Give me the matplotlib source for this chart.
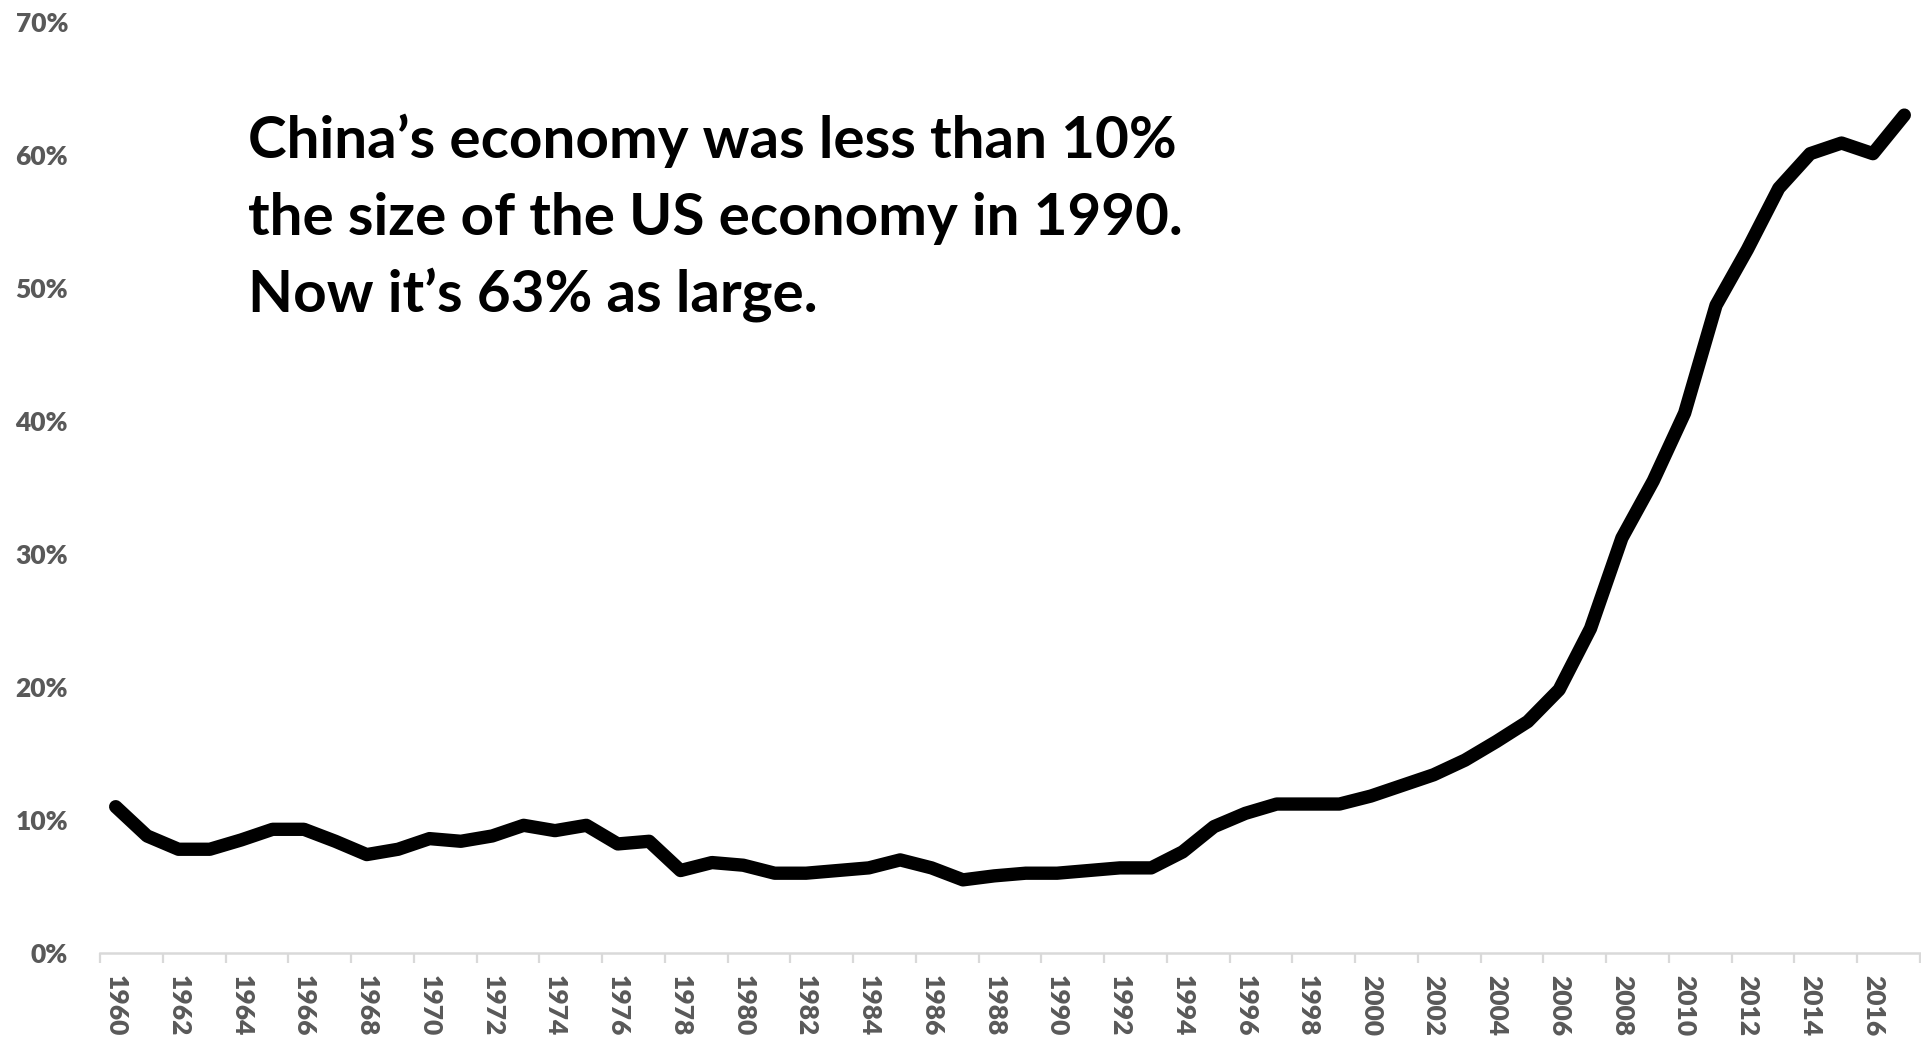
import matplotlib
matplotlib.use("Agg")
import matplotlib.pyplot as plt
from matplotlib.ticker import FixedLocator, FuncFormatter, NullFormatter

# China's GDP as a share of US GDP (percent), 1960-2017
years = list(range(1960, 2018))
share_pct = [
    11.0, 8.8, 7.8, 7.8, 8.5, 9.3, 9.3, 8.4, 7.4, 7.8,
    8.6, 8.4, 8.8, 9.6, 9.2, 9.6, 8.2, 8.4, 6.2, 6.8,
    6.6, 6.0, 6.0, 6.2, 6.4, 7.0, 6.4, 5.5, 5.8, 6.0,
    6.0, 6.2, 6.4, 6.4, 7.6, 9.5, 10.5, 11.2, 11.2, 11.2,
    11.8, 12.6, 13.4, 14.5, 15.9, 17.4, 19.8, 24.4, 31.2, 35.5,
    40.6, 48.7, 52.9, 57.5, 60.1, 60.9, 60.1, 63.0,
]
y_ticks = [0, 10, 20, 30, 40, 50, 60, 70]
x_label_years = list(range(1960, 2017, 2))
headline = [
    "China\u2019s economy was less than 10%",
    "the size of the US economy in 1990.",
    "Now it\u2019s 63% as large.",
]

FONT = "Lato"
GREY = "#595959"
AXIS_GREY = "#D9D9D9"

W, H = 1921, 1041
fig = plt.figure(figsize=(W / 100, H / 100), dpi=100)
ax = fig.add_axes([100 / W, 88 / H, 1820 / W, 931 / H])

ax.plot(years, share_pct, color="black", linewidth=9.6,
        solid_capstyle="round", solid_joinstyle="round", zorder=3)

ax.set_xlim(years[0] - 0.5, years[-1] + 0.5)
ax.set_ylim(0, 70)

# y axis: percentage labels, no tick marks
ax.yaxis.set_major_locator(FixedLocator(y_ticks))
ax.yaxis.set_major_formatter(FuncFormatter(lambda v, p: f"{v:.0f}%"))
ax.tick_params(axis="y", length=0, pad=23, labelsize=19, labelcolor=GREY)

# x axis: tick marks between categories, labels centred on categories
boundaries = [y - 0.5 for y in range(years[0], years[-1] + 2, 2)]
ax.xaxis.set_major_locator(FixedLocator(boundaries))
ax.xaxis.set_major_formatter(NullFormatter())
ax.xaxis.set_minor_locator(FixedLocator(x_label_years))
ax.xaxis.set_minor_formatter(FuncFormatter(lambda v, p: f"{v:.0f}"))
ax.tick_params(axis="x", which="major", length=7.2, width=1.6, color=AXIS_GREY)
ax.tick_params(axis="x", which="minor", length=0, pad=16, labelsize=19,
               labelcolor=GREY, labelrotation=-90)

for lbl in ax.get_yticklabels() + ax.get_xticklabels(minor=True):
    lbl.set_fontfamily(FONT)
    lbl.set_fontweight("heavy")

for side in ("top", "right", "left"):
    ax.spines[side].set_visible(False)
ax.spines["bottom"].set_color(AXIS_GREY)
ax.spines["bottom"].set_linewidth(1.8)

# headline text block
baselines = [158, 235, 312]
for line, yb in zip(headline, baselines):
    fig.text(248 / W, 1 - yb / H, line, fontsize=42, fontweight="bold",
             family=FONT, color="black", ha="left", va="baseline")

fig.savefig("out.png", dpi=100, facecolor="white")
